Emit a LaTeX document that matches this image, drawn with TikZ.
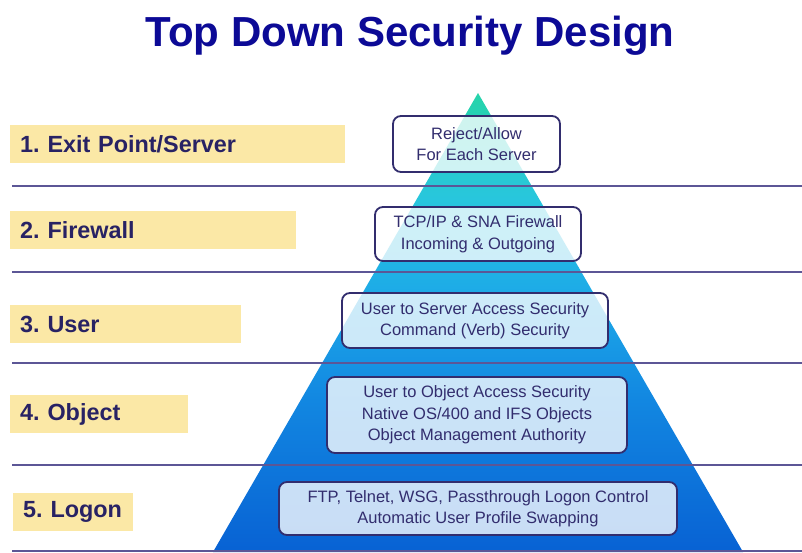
\documentclass[tikz,border=0pt]{standalone}
\usepackage{fontspec}
\setmainfont{Liberation Sans}
\frenchspacing

% colours
\definecolor{titleblue}{RGB}{12,10,150}
\definecolor{labelink}{RGB}{40,34,100}
\definecolor{labelfill}{RGB}{251,232,166}
\definecolor{boxink}{RGB}{50,45,110}
\definecolor{ruleink}{RGB}{92,86,150}

% pyramid shading: blue at the base, teal at the apex
\pgfdeclareverticalshading{pyramidfade}{100bp}{%
  rgb(0bp)=(0.031,0.384,0.831);
  rgb(25bp)=(0.031,0.384,0.831);
  rgb(41.5bp)=(0.071,0.529,0.882);
  rgb(52.4bp)=(0.110,0.659,0.910);
  rgb(63.3bp)=(0.157,0.776,0.871);
  rgb(75bp)=(0.149,0.831,0.667);
  rgb(100bp)=(0.149,0.831,0.667)}

\begin{document}
\begin{tikzpicture}[x=1pt,y=-1pt,
  heading/.style={text=titleblue, font=\fontsize{42}{50}\selectfont\bfseries, inner sep=0pt},
  levellabel/.style={fill=labelfill, text=labelink, anchor=west, align=left,
    inner xsep=10pt, inner ysep=0pt, minimum height=38pt,
    font=\fontsize{23.4}{28}\selectfont\bfseries},
  layerbox/.style={draw=boxink, line width=1.8pt, rounded corners=8pt,
    fill=white, fill opacity=0.78, text opacity=1, text=boxink, align=center,
    inner sep=0pt, font=\fontsize{16.5}{21.5}\selectfont},
  divider/.style={draw=ruleink, line width=2.2pt}]

\useasboundingbox (0,0) rectangle (802,552);
\fill[white] (0,0) rectangle (802,552);

% title
\node[heading, anchor=base] (title) at (410,46) {Top Down Security Design};

% pyramid
\coordinate (apex) at (478,93);
\coordinate (baseR) at (743,552);
\coordinate (baseL) at (213,552);
\shade[shading=pyramidfade] (apex) -- (baseR) -- (baseL) -- cycle;

% dividers between the levels
\foreach \y/\n in {186/1,272/2,363/3,465/4,551/5}{
  \coordinate (r\n a) at (12,\y);
  \coordinate (r\n b) at (802,\y);
  \draw[divider] (r\n a) -- (r\n b);
}

% level labels
\node[levellabel, text width=315pt] (l1) at (10,144) {1. Exit Point/Server};
\node[levellabel, text width=266pt] (l2) at (10,230) {2. Firewall};
\node[levellabel, text width=211pt] (l3) at (10,324) {3. User};
\node[levellabel, text width=158pt] (l4) at (10,414) {4. Object};
\node[levellabel, text width=100pt] (l5) at (13,512) {\mbox{5. Logon}};

% boxes on the pyramid
\node[layerbox, minimum width=167pt, minimum height=56pt] (b1) at (476.5,144)
  {Reject/Allow\\For Each Server};
\node[layerbox, minimum width=206pt, minimum height=54pt] (b2) at (478,234)
  {TCP/IP \& SNA Firewall\\Incoming \& Outgoing};
\node[layerbox, minimum width=266pt, minimum height=55pt] (b3) at (475,320.5)
  {User to Server Access Security\\Command (Verb) Security};
\node[layerbox, minimum width=300pt, minimum height=76pt] (b4) at (477,415)
  {User to Object Access Security\\Native OS/400 and IFS Objects\\Object Management Authority};
\node[layerbox, minimum width=398pt, minimum height=53pt] (b5) at (478,508.5)
  {FTP, Telnet, WSG, Passthrough Logon Control\\Automatic User Profile Swapping};

\end{tikzpicture}
\end{document}
